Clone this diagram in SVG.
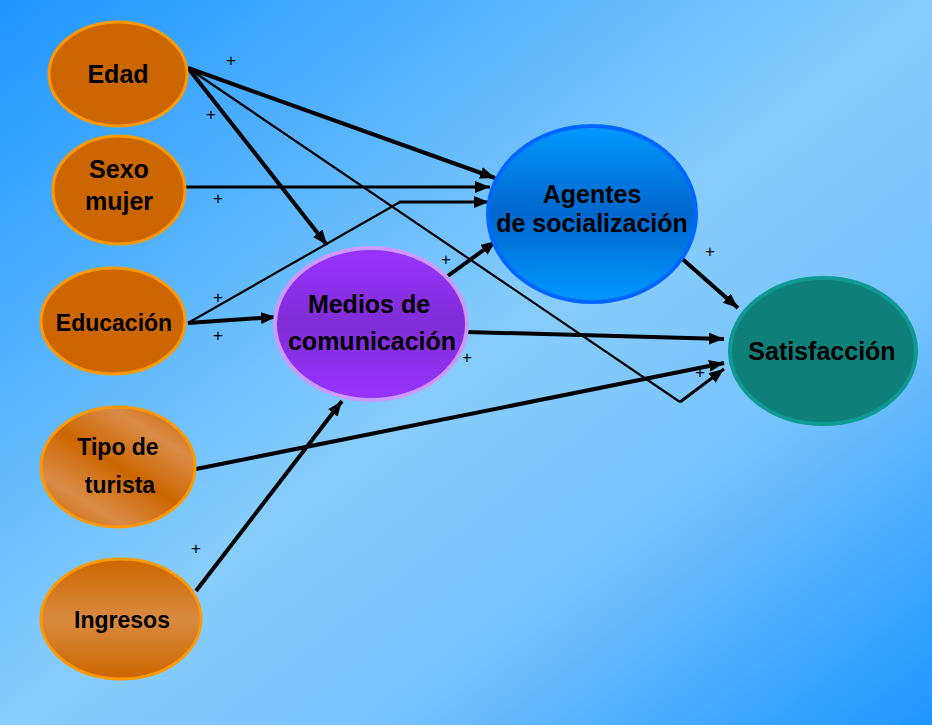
<svg xmlns="http://www.w3.org/2000/svg" width="932" height="725" viewBox="0 0 932 725">
  <defs>
    <linearGradient id="bg" x1="0" y1="0" x2="1" y2="1">
      <stop offset="0" stop-color="#1E96FF"/>
      <stop offset="0.5" stop-color="#87CDFC"/>
      <stop offset="0.7" stop-color="#78C3FD"/>
      <stop offset="1" stop-color="#1E96FF"/>
    </linearGradient>
    <linearGradient id="gTipo" x1="0.9" y1="0" x2="0.1" y2="1">
      <stop offset="0" stop-color="#CC6600"/>
      <stop offset="0.22" stop-color="#DA8C48"/>
      <stop offset="0.5" stop-color="#CC6600"/>
      <stop offset="0.78" stop-color="#DA8C48"/>
      <stop offset="1" stop-color="#CC6600"/>
    </linearGradient>
    <linearGradient id="gIngr" x1="0" y1="0" x2="0" y2="1">
      <stop offset="0" stop-color="#CC6600"/>
      <stop offset="0.5" stop-color="#D98A40"/>
      <stop offset="1" stop-color="#CC6600"/>
    </linearGradient>
    <linearGradient id="gMed" x1="0" y1="0" x2="0" y2="1">
      <stop offset="0" stop-color="#9933FF"/>
      <stop offset="0.5" stop-color="#7F2CD6"/>
      <stop offset="1" stop-color="#9933FF"/>
    </linearGradient>
    <linearGradient id="gAg" x1="0" y1="0" x2="0" y2="1">
      <stop offset="0" stop-color="#0099FF"/>
      <stop offset="0.5" stop-color="#0066CC"/>
      <stop offset="1" stop-color="#0099FF"/>
    </linearGradient>
    <marker id="arr" markerUnits="userSpaceOnUse" markerWidth="15" markerHeight="12" refX="15" refY="6" orient="auto">
      <path d="M0,0 L15,6 L0,12 z" fill="#000"/>
    </marker>
    <style>
      .node-or { fill: #CC6600; stroke: #FF9900; stroke-width: 3; }
      .lbl { font-family: "Liberation Sans", Arial, sans-serif; font-weight: bold; font-size: 25px; fill: #000; text-anchor: middle; }
      .lbl-s { font-size: 23px; }
      .plus { font-family: "Liberation Sans", Arial, sans-serif; font-size: 17px; fill: #000; text-anchor: middle; }
      .thick { stroke: #000; stroke-width: 4; fill: none; }
      .mid { stroke: #000; stroke-width: 3; fill: none; }
      .thin { stroke: #000; stroke-width: 2.2; fill: none; }
    </style>
  </defs>

  <rect x="0" y="0" width="932" height="725" fill="url(#bg)"/>

  <g id="connectors">
    <line class="thick" x1="188" y1="68" x2="495" y2="178" marker-end="url(#arr)"/>
    <line class="thick" x1="188" y1="68" x2="327" y2="245" marker-end="url(#arr)"/>
    <line class="thin" x1="188" y1="68" x2="680" y2="402"/>
    <line class="mid" x1="680" y1="402" x2="724" y2="369" marker-end="url(#arr)"/>
    <line class="mid" x1="186" y1="187" x2="490" y2="187" marker-end="url(#arr)"/>
    <line class="thin" x1="188" y1="323" x2="400" y2="202"/>
    <line class="mid" x1="399" y1="202" x2="489" y2="202" marker-end="url(#arr)"/>
    <line class="thick" x1="188" y1="323" x2="276" y2="317" marker-end="url(#arr)"/>
    <line class="thick" x1="445" y1="278" x2="496" y2="241" marker-end="url(#arr)"/>
    <line class="thick" x1="467" y1="332" x2="724" y2="339" marker-end="url(#arr)"/>
    <line class="thick" x1="679" y1="256" x2="738" y2="308" marker-end="url(#arr)"/>
    <line class="thick" x1="196" y1="469" x2="724" y2="363" marker-end="url(#arr)"/>
    <line class="thick" x1="196" y1="591" x2="342" y2="401" marker-end="url(#arr)"/>
    <text class="plus" x="231" y="66">+</text>
    <text class="plus" x="211" y="120">+</text>
    <text class="plus" x="218" y="204">+</text>
    <text class="plus" x="218" y="303">+</text>
    <text class="plus" x="218" y="341">+</text>
    <text class="plus" x="446" y="265">+</text>
    <text class="plus" x="467" y="363">+</text>
    <text class="plus" x="710" y="257">+</text>
    <text class="plus" x="700" y="378">+</text>
    <text class="plus" x="196" y="554">+</text>
  </g>

  <g id="edad">
    <ellipse class="node-or" cx="118" cy="74" rx="69" ry="52"/>
    <text class="lbl" x="118" y="83">Edad</text>
  </g>
  <g id="sexo">
    <ellipse class="node-or" cx="119" cy="190" rx="66" ry="54"/>
    <text class="lbl" x="119" y="178">Sexo</text>
    <text class="lbl" x="119" y="210">mujer</text>
  </g>
  <g id="educacion">
    <ellipse class="node-or" cx="113" cy="321" rx="72" ry="53"/>
    <text class="lbl lbl-s" x="114" y="331">Educación</text>
  </g>
  <g id="tipo">
    <ellipse cx="118" cy="467" rx="77" ry="60" fill="url(#gTipo)" stroke="#FF9900" stroke-width="3"/>
    <text class="lbl lbl-s" x="118" y="455">Tipo de</text>
    <text class="lbl lbl-s" x="120" y="493">turista</text>
  </g>
  <g id="ingresos">
    <ellipse cx="121" cy="619" rx="80" ry="60" fill="url(#gIngr)" stroke="#FF9900" stroke-width="3"/>
    <text class="lbl lbl-s" x="122" y="628">Ingresos</text>
  </g>
  <g id="medios">
    <ellipse cx="371" cy="324" rx="96" ry="76" fill="url(#gMed)" stroke="#CC99FF" stroke-width="4"/>
    <text class="lbl" x="369" y="313">Medios de</text>
    <text class="lbl" x="372" y="350">comunicación</text>
  </g>
  <g id="agentes">
    <ellipse cx="592" cy="214" rx="104" ry="88" fill="url(#gAg)" stroke="#0066FF" stroke-width="4"/>
    <text class="lbl" x="592" y="203">Agentes</text>
    <text class="lbl" x="592" y="232">de socialización</text>
  </g>
  <g id="satisfaccion">
    <ellipse cx="823" cy="351" rx="93" ry="73" fill="#0F7F7A" stroke="#0E9A92" stroke-width="4"/>
    <text class="lbl" x="822" y="360">Satisfacción</text>
  </g>
</svg>
